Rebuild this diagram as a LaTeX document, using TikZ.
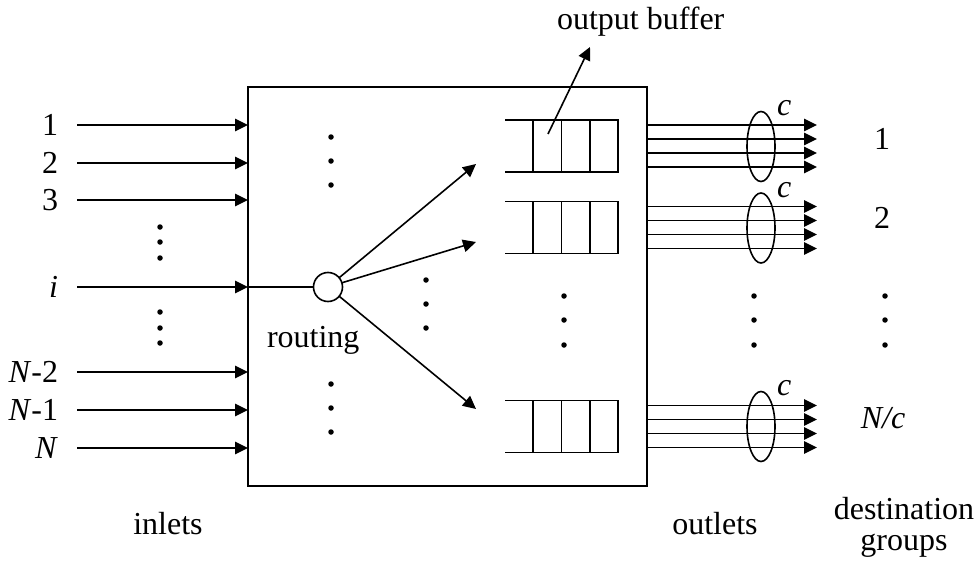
\documentclass[tikz,border=0pt]{standalone}
\usepackage{fontspec}
\setmainfont{Liberation Serif}
\usetikzlibrary{arrows.meta,shapes.geometric,calc}
\begin{document}
\begin{tikzpicture}[x=1pt,y=-1pt,line width=1.6pt,
  every node/.style={font=\fontsize{32}{37}\selectfont,inner sep=0pt,outer sep=0pt},
  arr/.style={-{Triangle[length=13pt,width=12.5pt]}},
  dotc/.style={circle,fill,minimum size=5.5pt,inner sep=0pt},
  bufn/.style={minimum width=113pt,minimum height=52pt},
  bundle/.style={draw,ellipse,minimum width=28pt,minimum height=70pt}]
\useasboundingbox (0,0) rectangle (980,562);
% switch box
\node[draw,minimum width=399pt,minimum height=399pt,anchor=north west] (sw) at (248,87) {};
% inlets
\foreach \y/\t/\n in {125/1/a,163/2/b,200/3/c,287/{\textit{i}}/d,372/{\textit{N}-2}/e,410/{\textit{N}-1}/f,448/{\textit{N}}/g}{
  \coordinate (s\n) at (77,\y);
  \node[anchor=base east] (l\n) at (58,\y+10) {\t};
  \draw[arr] (s\n) -- (s\n -| sw.west);
}
% routing element
\node[draw,circle,minimum size=29pt,fill=white] (rt) at (328,287) {};
\draw (sd -| sw.west) -- (rt);
\node[anchor=base west] (rlab) at (267,347) {routing};
% dots
\foreach \x/\y/\n in {160/227/a1,160/242/a2,160/258/a3,160/312/b1,160/328/b2,160/343/b3,
  331/137/c1,331/161/c2,331/185/c3,331/384/d1,331/408/d2,331/432/d3,
  426/280/e1,426/304/e2,426/328/e3,564/296/f1,564/320/f2,564/345/f3,
  754/296/g1,754/320/g2,754/345/g3,885/296/h1,885/320/h2,885/345/h3}
  \node[dotc] (dot\n) at (\x,\y) {};
% buffers
\foreach \n/\y in {1/146,2/227.5,3/426.5}{
  \node[bufn] (b\n) at (561.5,\y) {};
  \draw (b\n.north west) -- (b\n.north east) -- (b\n.south east) -- (b\n.south west);
  \foreach \f in {0.25,0.5,0.75}
    \draw ($(b\n.north west)!\f!(b\n.north east)$) -- ($(b\n.south west)!\f!(b\n.south east)$);
}
% routing arrows
\coordinate (t1) at (476,164);
\coordinate (t2) at (476,242);
\coordinate (t3) at (476,409);
\foreach \n in {1,2,3} \draw[arr] (rt) -- (t\n);
% output buffer label
\node[anchor=base west] (oblab) at (557,29) {output buffer};
\coordinate (obs) at (548,134);
\coordinate (obt) at (590,47);
\draw[arr] (obs) -- (obt);
% outlets
\foreach \n/\y/\cy in {1/146.5/115,2/228/197,3/426.5/395}{
  \coordinate (o\n) at (817,\y);
  \foreach \d in {-21,-7,7,21}{
    \coordinate (q) at ($(b\n.east)+(0,\d)$);
    \draw[arr] (q -| sw.east) -- (q -| o\n);
  }
  \node[bundle] (e\n) at (761,\y) {};
  \node[anchor=base west] (c\n) at (777,\cy) {\textit{c}};
}
% destination group labels
\node[anchor=base] (g1) at (882,149) {1};
\node[anchor=base] (g2) at (882,228) {2};
\node[anchor=base] (g3) at (883,428) {\textit{N/c}};
% bottom labels
\node[anchor=base] (inl) at (168,534) {inlets};
\node[anchor=base] (outl) at (715,534) {outlets};
\node[anchor=base] (dest) at (904,519) {destination};
\node[anchor=base] (grp) at (904,550) {groups};
\end{tikzpicture}
\end{document}
